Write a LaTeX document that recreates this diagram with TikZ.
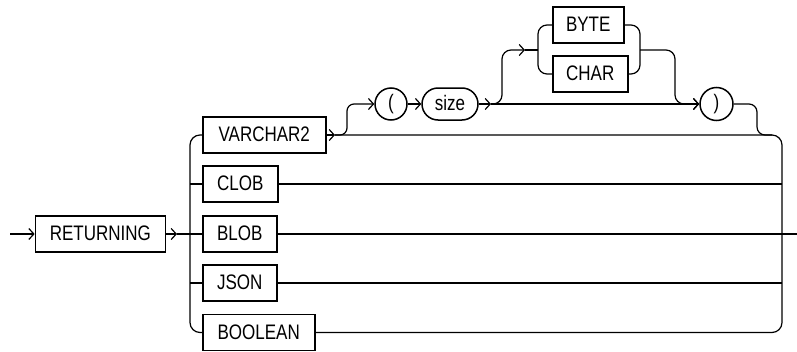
\documentclass[tikz,border=0pt]{standalone}
\usepackage{fontspec}
\setmainfont{Liberation Sans}[FakeStretch=0.81]
\usetikzlibrary{arrows.meta}
\tikzset{
  kwfont/.style={font=\fontsize{21}{22}\selectfont},
  kw/.style={draw, line width=1.5pt, minimum height=36pt, inner xsep=2pt, inner ysep=0pt,
    kwfont, text height=15pt, text depth=2pt},
  circ/.style={draw, circle, line width=1.5pt, minimum size=32pt, inner sep=0pt, kwfont},
  var/.style={draw, line width=1.5pt, rounded corners=16pt, minimum height=32pt, minimum width=56pt,
    inner sep=0pt, kwfont, text height=15pt, text depth=2pt},
  conn/.style={line width=1.2pt},
  arr/.style={conn, -{Straight Barb[length=5pt,width=11pt,line width=1.2pt]}},
}
\begin{document}
\begin{tikzpicture}[x=1pt,y=-1pt]
\useasboundingbox (0,0) rectangle (797,351);
% nodes
\node[kw, minimum width=130pt] (ret) at (100.4,234) {RETURNING};
\node[kw, anchor=west, minimum width=123pt] (v2) at (202,135) {VARCHAR2};
\node[kw, anchor=west, minimum width=75pt] (clob) at (202,184) {CLOB};
\node[kw, anchor=west, minimum width=74pt] (blob) at (202,234) {BLOB};
\node[kw, anchor=west, minimum width=74pt] (json) at (202,283) {JSON};
\node[kw, anchor=west, minimum width=112pt] (bool) at (202,332.5) {BOOLEAN};
\node[circ] (lp) at (391,104) {(};
\node[var] (size) at (450,104) {size};
\node[kw, anchor=west, minimum width=71pt] (byte) at (552,25) {BYTE};
\node[kw, anchor=west, minimum width=75pt] (char) at (552,74) {CHAR};
\node[circ, minimum size=33pt] (rp) at (716.5,104) {)};
% coordinates
\coordinate (start) at (10,234);
\coordinate (a1) at (177,234);
\coordinate (lv) at (190,234);
\coordinate (endp) at (797,234);
\coordinate (rv) at (782,234);
\coordinate (a2) at (335,135);
\coordinate (a3) at (491,104);
\coordinate (a4) at (525,50);
\coordinate (bl) at (538,50);
\coordinate (br) at (640,50);
% main path
\draw[arr] (start) -- (ret.west);
\draw[arr] (ret.east) -- (a1);
\draw[conn] (a1) -- (blob.west);
\draw[conn] (blob.east) -- (endp);
% left fork
\draw[conn, rounded corners=10pt] (v2.west) -| (lv) |- (bool.west);
\draw[conn] (lv |- clob) -- (clob.west);
\draw[conn] (lv |- json) -- (json.west);
% right join
\draw[arr] (v2.east) -- (a2);
\draw[conn, rounded corners=10pt] (a2) -| (rv);
\draw[conn, rounded corners=10pt] (bool.east) -| (rv);
\draw[conn] (clob.east) -- (rv |- clob);
\draw[conn] (json.east) -- (rv |- json);
% size branch
\draw[arr, rounded corners=7pt] (a2) -| (347,104) -- (lp.west);
\draw[arr] (lp.east) -- (size.west);
\draw[arr] (size.east) -- (a3);
\draw[arr] (a3) -- (rp.west);
% BYTE / CHAR
\draw[arr, rounded corners=9pt] (a3) -| (502,50) -- (a4);
\draw[conn] (a4) -- (bl);
\draw[conn, rounded corners=9pt] (byte.west) -| (bl) |- (char.west);
\draw[conn, rounded corners=9pt] (byte.east) -| (br) |- (char.east);
\draw[arr, rounded corners=9pt] (br) -| (675,104) -- (rp.west);
% back to main
\draw[conn, rounded corners=8pt] (rp.east) -| (757,135) -- (772,135);
\end{tikzpicture}
\end{document}
